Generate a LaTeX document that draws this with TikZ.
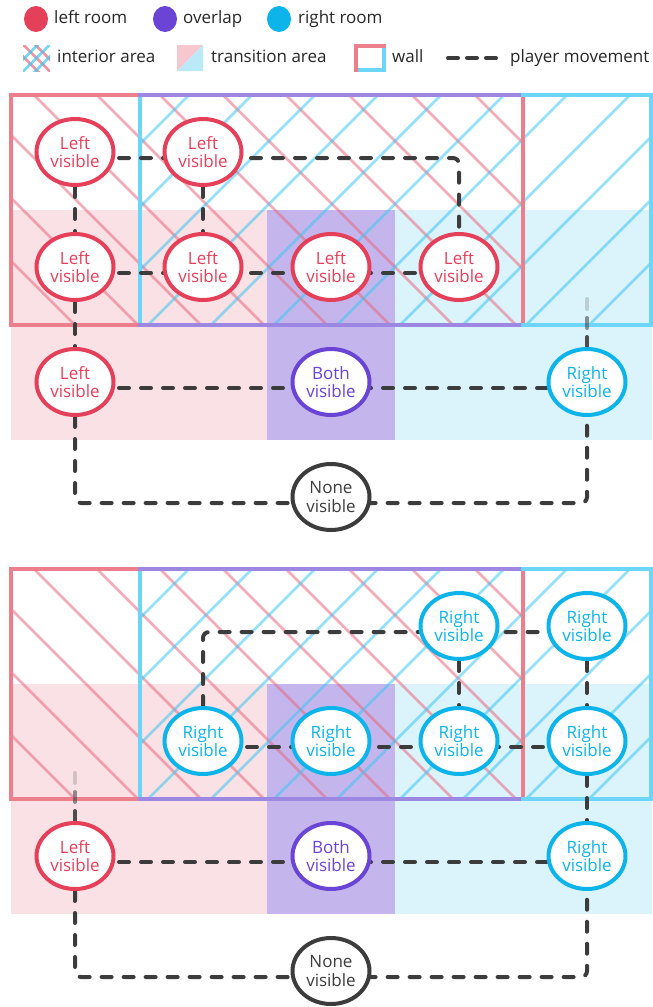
\documentclass[tikz,border=0pt]{standalone}
\usepackage{fontspec}
\setmainfont{Open Sans}
\usetikzlibrary{shapes.geometric}

\definecolor{leftred}{HTML}{E5405A}
\definecolor{bothpurple}{HTML}{6A44D4}
\definecolor{rightblue}{HTML}{0DB4E9}
\definecolor{nonegray}{HTML}{3C3C3C}
\definecolor{wallred}{HTML}{EC7F8B}
\definecolor{wallblue}{HTML}{6DD5F7}
\definecolor{wallpurple}{HTML}{9C88E2}
\definecolor{zonered}{HTML}{F9E1E5}
\definecolor{zonepurple}{HTML}{C4B6EC}
\definecolor{zoneblue}{HTML}{DBF3FA}
\definecolor{hatchred}{HTML}{E8677D}
\definecolor{hatchblue}{HTML}{3CC6F0}

\pgfdeclarelayer{back}
\pgfdeclarelayer{moves}
\pgfsetlayers{back,moves,main}

\tikzset{
  spot/.style={ellipse,draw,line width=4pt,fill=white,minimum width=77pt,minimum height=66pt,
    inner sep=0pt,align=center,font=\fontsize{17}{18.5}\selectfont},
  lspot/.style={spot,draw=leftred,text=leftred},
  bspot/.style={spot,draw=bothpurple,text=bothpurple},
  rspot/.style={spot,draw=rightblue,text=rightblue},
  nspot/.style={spot,draw=nonegray,text=nonegray},
  move/.style={draw=nonegray,line width=4pt,line cap=round,dash pattern=on 10pt off 12pt,rounded corners=6pt},
  stub/.style={draw=nonegray,line width=4pt,line cap=round},
  wall/.style={line width=4.5pt,line cap=rect},
  lhatch/.style={hatchred,line width=2.5pt,opacity=0.55},
  rhatch/.style={hatchblue,line width=2.5pt,opacity=0.55},
  legtext/.style={anchor=mid west,inner sep=0pt,font=\fontsize{17}{19}\selectfont,text=black!85},
  legdot/.style={ellipse,inner sep=0pt,minimum width=24pt,minimum height=26pt},
}

\begin{document}
\begin{tikzpicture}[x=1pt,y=-1pt]
  \useasboundingbox (0,0) rectangle (653,1007);

  % legend
  \node[legdot,fill=leftred] (dotl) at (36,19) {};
  \node[legtext] (keyl) at (54,21) {left room};
  \node[legdot,fill=bothpurple] (dotb) at (165,19) {};
  \node[legtext] (keyb) at (183,21) {overlap};
  \node[legdot,fill=rightblue] (dotr) at (279,19) {};
  \node[legtext] (keyr) at (298,21) {right room};

  \begin{scope}
    \clip (23,45) rectangle (50,71);
    \foreach \k in {-1,0,1} \draw[lhatch,opacity=0.7] ({36.5+12*\k-15},43) -- ++(30,30);
    \foreach \k in {-1,0,1} \draw[rhatch,opacity=0.7] ({36.5+12*\k+15},43) -- ++(-30,30);
  \end{scope}
  \node[legtext] (keyi) at (57,60) {interior area};
  \fill[zonered!80!leftred!90] (177,45) -- (203,45) -- (177,71) -- cycle;
  \fill[zoneblue!80!rightblue!90] (203,45) -- (203,71) -- (177,71) -- cycle;
  \node[legtext] (keyt) at (211,60) {transition area};
  \draw[wall,wallblue] (384,46) -- (384,70) -- (356,70);
  \draw[wall,wallred] (356,70) -- (356,46) -- (384,46);
  \node[legtext] (keyw) at (392,60) {wall};
  \draw[move,dash pattern=on 10pt off 9pt] (448,58) -- (496,58);
  \node[legtext] (keym) at (510,60) {player movement};

  % rooms, twice
  \begin{pgfonlayer}{back}
  \foreach \oy in {0,474}{
    \begin{scope}[shift={(0,\oy)}]
      \fill[zonered] (11,210) rectangle (267,440);
      \fill[zonepurple] (267,210) rectangle (395,440);
      \fill[zoneblue] (395,210) rectangle (652,440);
      \begin{scope}
        \clip (11,95) rectangle (523,325);
        \foreach \k in {-5,...,6} \draw[lhatch] ({97+63*\k},95) -- ++(240,240);
      \end{scope}
      \begin{scope}
        \clip (140,95) rectangle (651,325);
        \foreach \k in {-2,...,9} \draw[rhatch] ({315+63*\k},95) -- ++(-240,240);
      \end{scope}
      \draw[wall,wallred] (11,95) -- (11,325) (523,95) -- (523,325);
      \draw[wall,wallblue] (140,95) -- (140,325) (651,95) -- (651,325);
      \draw[wall,wallred] (11,95) -- (140,95) (11,325) -- (140,325);
      \draw[wall,wallpurple] (140,95) -- (523,95) (140,325) -- (523,325);
      \draw[wall,wallblue] (523,95) -- (651,95) (523,325) -- (651,325);
    \end{scope}
  }
  \end{pgfonlayer}

  % upper case: left room visible
  \node[lspot] (a11) at (75,152) {Left\\visible};
  \node[lspot] (a12) at (203,152) {Left\\visible};
  \node[lspot] (a21) at (75,267) {Left\\visible};
  \node[lspot] (a22) at (203,267) {Left\\visible};
  \node[lspot] (a23) at (331,267) {Left\\visible};
  \node[lspot] (a24) at (459,267) {Left\\visible};
  \node[lspot] (a31) at (75,382) {Left\\visible};
  \node[bspot] (a33) at (331,382) {Both\\visible};
  \node[rspot] (a35) at (587,382) {Right\\visible};
  \node[nspot] (a43) at (331,497) {None\\visible};

  % lower case: right room visible
  \node[rspot] (b14) at (459,626) {Right\\visible};
  \node[rspot] (b15) at (587,626) {Right\\visible};
  \node[rspot] (b22) at (203,741) {Right\\visible};
  \node[rspot] (b23) at (331,741) {Right\\visible};
  \node[rspot] (b24) at (459,741) {Right\\visible};
  \node[rspot] (b25) at (587,741) {Right\\visible};
  \node[lspot] (b31) at (75,856) {Left\\visible};
  \node[bspot] (b33) at (331,856) {Both\\visible};
  \node[rspot] (b35) at (587,856) {Right\\visible};
  \node[nspot] (b43) at (331,971) {None\\visible};

  \begin{pgfonlayer}{moves}
    \draw[move] ([yshift=-6pt]a11.center) -- ([yshift=-6pt]a12.center) -| (a24);
    \draw[move] (a11) -- (a21) -- (a31);
    \draw[move] (a12) -- (a22);
    \draw[move] ([yshift=-6pt]a21.center) -- ([yshift=-6pt]a24.center);
    \draw[move] ([yshift=-6pt]a31.center) -- ([yshift=-6pt]a35.center);
    \draw[move] (a31) |- ([yshift=-6pt]a43.center) -| (a35);
    \foreach \o/\t in {0.9/0,0.55/19,0.2/38}
      \draw[stub,opacity=\o] ([yshift=\t pt]a35.north) -- ++(0,-10);

    \draw[move] (b22) |- ([yshift=-6pt]b15.center);
    \draw[move] (b14) -- (b24);
    \draw[move] (b15) -- (b25) -- (b35);
    \draw[move] ([yshift=-6pt]b22.center) -- ([yshift=-6pt]b25.center);
    \draw[move] ([yshift=-6pt]b31.center) -- ([yshift=-6pt]b35.center);
    \draw[move] (b31) |- ([yshift=-6pt]b43.center) -| (b35);
    \foreach \o/\t in {0.9/0,0.55/19,0.2/38}
      \draw[stub,opacity=\o] ([yshift=\t pt]b31.north) -- ++(0,-10);
  \end{pgfonlayer}
\end{tikzpicture}
\end{document}
